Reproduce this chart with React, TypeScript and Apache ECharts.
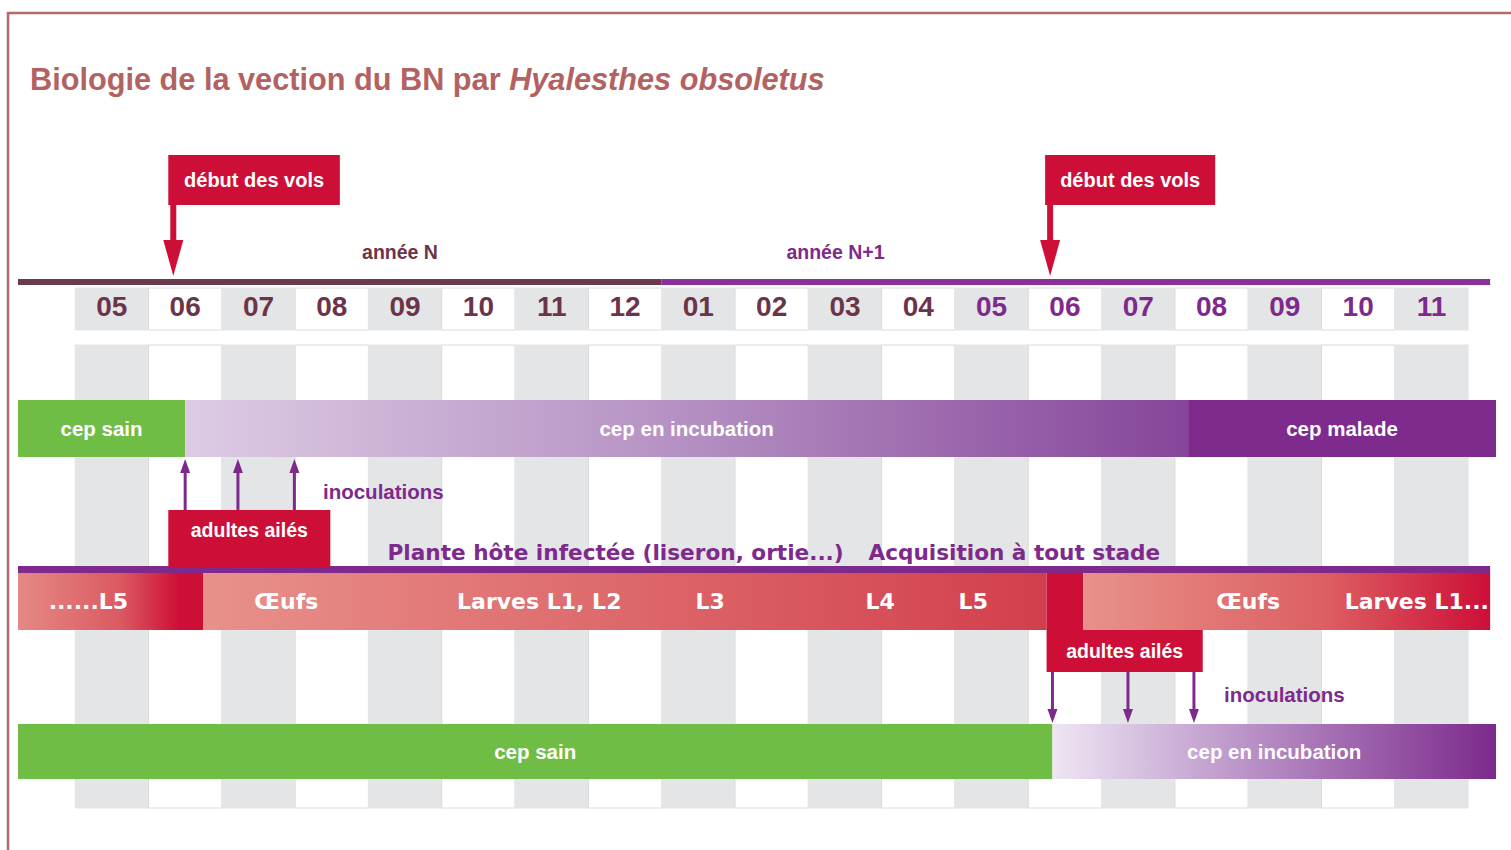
import React, { useEffect, useRef } from "react";
import * as echarts from "echarts";

// ---------------- data ----------------
const months = ["05", "06", "07", "08", "09", "10", "11", "12", "01", "02", "03", "04", "05", "06", "07", "08", "09", "10", "11"];
// 0 = maroon label, 1 = purple label
const monthTone = [0, 0, 0, 0, 0, 0, 0, 0, 0, 0, 0, 0, 1, 1, 1, 1, 1, 1, 1];

const yearNames = ["année N", "année N+1"];
const yearStart = [-0.78, 8];
const yearEnd = [8, 19.3];
const yearLabelAt = [4.43, 10.37];

const vineNNames = ["cep sain", "cep en incubation", "cep malade"];
const vineNStart = [-0.78, 1.5, 15.18];
const vineNEnd = [1.5, 15.18, 19.38];

const insectStart = [-0.78, 1.75, 13.25, 13.75];
const insectEnd = [1.75, 13.25, 13.75, 19.3];

const stageNames = ["......L5", "Œufs", "Larves L1, L2", "L3", "L4", "L5", "Œufs", "Larves L1..."];
const stageAt = [0.18, 2.88, 6.33, 8.66, 10.98, 12.25, 16.0, 18.3];

const vineN1Names = ["cep sain", "cep en incubation"];
const vineN1Start = [-0.78, 13.33];
const vineN1End = [13.33, 19.38];

const flightLabel = "début des vols";
const flightStart = [1.27, 13.23];
const flightEnd = [3.61, 15.55];

const adultLabel = "adultes ailés";
const adultStart = [1.27, 13.25];
const adultEnd = [3.48, 15.38];

const inoculationLabel = "inoculations";
const inocN = [1.5, 2.22, 2.99];
const inocN1 = [13.33, 14.36, 15.26];
const inocLabelAt = [3.38, 15.67];

const hostLabels = ["Plante hôte infectée (liseron, ortie...)", "Acquisition à tout stade"];
const hostLabelAt = [4.26, 10.82];
const hostSpan = [-0.78, 19.3];

// ---------------- layout (pixels on the inverted y axis) ----------------
const Y = {
  flightBox: [155, 205],
  flightTip: 276,
  yearLabel: 252,
  yearLine: [279, 285],
  header: [288, 330],
  monthText: 306,
  body: [345, 808],
  vineN: [400, 457],
  inocNBase: 510,
  inocNTip: 459,
  inocLabel: [491, 694],
  adultN: [510, 568],
  hostLabel: 552,
  hostLine: [566, 573],
  insect: [573, 630],
  adultN1: [630, 672],
  inocN1Base: 672,
  inocN1Tip: 723,
  vineN1: [724, 779],
};

const C = {
  frame: "#b46a6a",
  title: "#b36262",
  grey: "#e4e5e7",
  cellStroke: "#d9dadc",
  maroon: "#6c3449",
  purple: "#7e2a8c",
  yearN: "#6b3a4e",
  yearN1: "#8b2f9a",
  green: "#70bd45",
  crimson: "#cd0f37",
  sick: "#7f2a8d",
};

const SANS = "'Liberation Sans', Arial, Helvetica, sans-serif";
const WIDE = "'DejaVu Sans', Verdana, sans-serif";

function rectBetween(api: any, x0v: number, x1v: number, y0: number, y1: number) {
  const p0 = api.coord([x0v, y0]);
  const p1 = api.coord([x1v, y1]);
  return { x: p0[0], y: p0[1], width: p1[0] - p0[0], height: p1[1] - p0[1] };
}

function grad(stops: [number, string][]) {
  return new echarts.graphic.LinearGradient(0, 0, 1, 0, stops.map(([offset, color]) => ({ offset, color })));
}

function segmentSeries(name: string, starts: number[], ends: number[], fills: any[], names: (string | null)[], lane: number[]) {
  return {
    type: "custom",
    name,
    data: starts.map((s, i) => [s, ends[i]]),
    encode: { x: [0, 1] },
    renderItem: (params: any, api: any) => {
      const i = params.dataIndex;
      const r = rectBetween(api, api.value(0), api.value(1), lane[0], lane[1]);
      const children: any[] = [{ type: "rect", shape: r, style: { fill: fills[i] } }];
      if (names[i]) {
        children.push({
          type: "text",
          style: {
            text: names[i],
            x: r.x + r.width / 2,
            y: r.y + r.height / 2,
            align: "center",
            verticalAlign: "middle",
            fill: "#ffffff",
            font: `bold 20.5px ${SANS}`,
          },
        });
      }
      return { type: "group", children };
    },
  };
}

function arrowSeries(name: string, xs: number[], base: number, tip: number) {
  return {
    type: "custom",
    name,
    data: xs.map((v) => [v, 0]),
    encode: { x: 0 },
    renderItem: (params: any, api: any) => {
      const pb = api.coord([api.value(0), base]);
      const pt = api.coord([api.value(0), tip]);
      const dir = pt[1] > pb[1] ? 1 : -1;
      const headLen = 14;
      const x = pb[0];
      return {
        type: "group",
        children: [
          { type: "line", shape: { x1: x, y1: pb[1], x2: x, y2: pt[1] - dir * headLen }, style: { stroke: C.purple, lineWidth: 3 } },
          { type: "polygon", shape: { points: [[x - 5, pt[1] - dir * headLen], [x + 5, pt[1] - dir * headLen], [x, pt[1]]] }, style: { fill: C.purple } },
        ],
      };
    },
  };
}

function textSeries(name: string, xs: number[], texts: string[], ys: number[], font: string, color: string, align: string) {
  return {
    type: "custom",
    name,
    data: xs.map((v) => [v, 0]),
    encode: { x: 0 },
    renderItem: (params: any, api: any) => {
      const i = params.dataIndex;
      const p = api.coord([api.value(0), ys[i]]);
      return {
        type: "text",
        style: { text: texts[i], x: p[0], y: p[1], align, verticalAlign: "middle", fill: color, font },
      };
    },
  };
}

function buildOption(): any {
  const series: any[] = [];

  // month columns (header + body)
  series.push({
    type: "custom",
    name: "months",
    data: months.map((_, i) => [i, i + 1]),
    encode: { x: [0, 1] },
    renderItem: (params: any, api: any) => {
      const i = params.dataIndex;
      const grey = i % 2 === 0;
      const fill = grey ? C.grey : "#ffffff";
      const stroke = grey ? C.grey : C.cellStroke;
      const h = rectBetween(api, api.value(0), api.value(1), Y.header[0], Y.header[1]);
      const b = rectBetween(api, api.value(0), api.value(1), Y.body[0], Y.body[1]);
      return {
        type: "group",
        children: [
          { type: "rect", shape: h, style: { fill, stroke, lineWidth: 1 } },
          { type: "rect", shape: b, style: { fill, stroke, lineWidth: 1 } },
          {
            type: "text",
            style: {
              text: months[i],
              x: h.x + h.width / 2,
              y: api.coord([0, Y.monthText])[1],
              align: "center",
              verticalAlign: "middle",
              fill: monthTone[i] ? C.purple : C.maroon,
              font: `bold 28px ${SANS}`,
            },
          },
        ],
      };
    },
  });

  // year lines
  series.push({
    type: "custom",
    name: "years",
    data: yearStart.map((s, i) => [s, yearEnd[i]]),
    encode: { x: [0, 1] },
    renderItem: (params: any, api: any) => {
      const i = params.dataIndex;
      const r = rectBetween(api, api.value(0), api.value(1), Y.yearLine[0], Y.yearLine[1]);
      const lp = api.coord([yearLabelAt[i], Y.yearLabel]);
      const col = i === 0 ? C.yearN : C.yearN1;
      return {
        type: "group",
        children: [
          { type: "rect", shape: r, style: { fill: col } },
          { type: "text", style: { text: yearNames[i], x: lp[0], y: lp[1], align: "center", verticalAlign: "middle", fill: i === 0 ? C.maroon : C.purple, font: `bold 19.5px ${SANS}` } },
        ],
      };
    },
  });

  // vine row year N
  series.push(
    segmentSeries(
      "vineN",
      vineNStart,
      vineNEnd,
      [C.green, grad([[0, "#ddcbe4"], [0.5, "#b490c2"], [1, "#86459a"]]), C.sick],
      vineNNames,
      Y.vineN
    )
  );

  // host plant line
  series.push({
    type: "custom",
    name: "host",
    data: [[hostSpan[0], hostSpan[1]]],
    encode: { x: [0, 1] },
    renderItem: (params: any, api: any) => ({
      type: "rect",
      shape: rectBetween(api, api.value(0), api.value(1), Y.hostLine[0], Y.hostLine[1]),
      style: { fill: C.purple },
    }),
  });

  // insect row
  series.push(
    segmentSeries(
      "insect",
      insectStart,
      insectEnd,
      [
        grad([[0, "#e58984"], [0.55, "#db5a62"], [0.87, "#cd0f37"], [1, "#cd0f37"]]),
        grad([[0, "#e8918a"], [1, "#d23f4c"]]),
        C.crimson,
        grad([[0, "#e8918a"], [0.6, "#dc5e62"], [1, "#cd0f37"]]),
      ],
      [null, null, null, null],
      Y.insect
    )
  );
  series.push(
    textSeries(
      "stages",
      stageAt,
      stageNames,
      stageAt.map(() => (Y.insect[0] + Y.insect[1]) / 2),
      `bold 22px ${WIDE}`,
      "#ffffff",
      "center"
    )
  );

  // vine row year N+1
  series.push(
    segmentSeries(
      "vineN1",
      vineN1Start,
      vineN1End,
      [C.green, grad([[0, "#eee6f3"], [0.45, "#b890c6"], [1, "#7c2a8c"]])],
      vineN1Names,
      Y.vineN1
    )
  );

  // adult boxes
  const adultLanes = [Y.adultN, Y.adultN1];
  series.push({
    type: "custom",
    name: "adults",
    data: adultStart.map((s, i) => [s, adultEnd[i]]),
    encode: { x: [0, 1] },
    renderItem: (params: any, api: any) => {
      const i = params.dataIndex;
      const r = rectBetween(api, api.value(0), api.value(1), adultLanes[i][0], adultLanes[i][1]);
      const ty = i === 0 ? r.y + 20 : r.y + r.height / 2;
      return {
        type: "group",
        children: [
          { type: "rect", shape: r, style: { fill: C.crimson } },
          { type: "text", style: { text: adultLabel, x: r.x + r.width / 2, y: ty, align: "center", verticalAlign: "middle", fill: "#ffffff", font: `bold 19.5px ${SANS}` } },
        ],
      };
    },
  });

  // flight start markers
  series.push({
    type: "custom",
    name: "flights",
    data: flightStart.map((s, i) => [s, flightEnd[i]]),
    encode: { x: [0, 1] },
    renderItem: (params: any, api: any) => {
      const r = rectBetween(api, api.value(0), api.value(1), Y.flightBox[0], Y.flightBox[1]);
      const tipY = api.coord([0, Y.flightTip])[1];
      const sx = r.x + 5;
      const headTop = tipY - 36;
      return {
        type: "group",
        children: [
          { type: "rect", shape: r, style: { fill: C.crimson } },
          { type: "rect", shape: { x: sx - 3, y: r.y + r.height - 1, width: 6, height: headTop - (r.y + r.height) + 2 }, style: { fill: C.crimson } },
          { type: "polygon", shape: { points: [[sx - 10, headTop], [sx + 10, headTop], [sx, tipY]] }, style: { fill: C.crimson } },
          { type: "text", style: { text: flightLabel, x: r.x + r.width / 2, y: r.y + r.height / 2, align: "center", verticalAlign: "middle", fill: "#ffffff", font: `bold 20px ${SANS}` } },
        ],
      };
    },
  });

  // inoculation arrows
  series.push(arrowSeries("inocN", inocN, Y.inocNBase, Y.inocNTip));
  series.push(arrowSeries("inocN1", inocN1, Y.inocN1Base, Y.inocN1Tip));
  series.push(textSeries("inocLabels", inocLabelAt, [inoculationLabel, inoculationLabel], Y.inocLabel, `bold 20.5px ${SANS}`, C.purple, "left"));

  // host plant labels
  series.push(textSeries("hostLabels", hostLabelAt, hostLabels, [Y.hostLabel, Y.hostLabel], `bold 21.6px ${WIDE}`, C.purple, "left"));

  return {
    animation: false,
    backgroundColor: "#ffffff",
    title: {
      text: "{a|Biologie de la vection du BN par} {b|Hyalesthes obsoletus}",
      left: 30,
      top: 61,
      padding: 0,
      textStyle: {
        fontFamily: SANS,
        fontWeight: "bold",
        fontSize: 30.7,
        color: C.title,
        lineHeight: 36,
        rich: {
          a: { fontFamily: SANS, fontWeight: "bold", fontSize: 30.7, color: C.title, lineHeight: 36 },
          b: { fontFamily: SANS, fontWeight: "bold", fontStyle: "italic", fontSize: 30.7, color: C.title, lineHeight: 36 },
        },
      },
    },
    graphic: [
      {
        type: "polyline",
        shape: { points: [[8, 850], [8, 13], [1511, 13]] },
        style: { stroke: C.frame, lineWidth: 2.5, fill: "none" },
        z: 10,
      },
    ],
    grid: { left: 18, right: 15, top: 0, bottom: 0 },
    xAxis: { type: "value", min: -0.78, max: 19.38, show: false, splitLine: { show: false } },
    yAxis: { type: "value", min: 0, max: 850, inverse: true, show: false, splitLine: { show: false } },
    series,
  };
}

export default function App() {
  const ref = useRef<HTMLDivElement>(null);
  useEffect(() => {
    if (!ref.current) return;
    const chart = echarts.init(ref.current, null, { renderer: "svg" });
    chart.setOption(buildOption());
    return () => chart.dispose();
  }, []);
  return <div ref={ref} style={{ position: "absolute", left: 0, top: 0, width: 1511, height: 850, background: "#ffffff" }} />;
}
